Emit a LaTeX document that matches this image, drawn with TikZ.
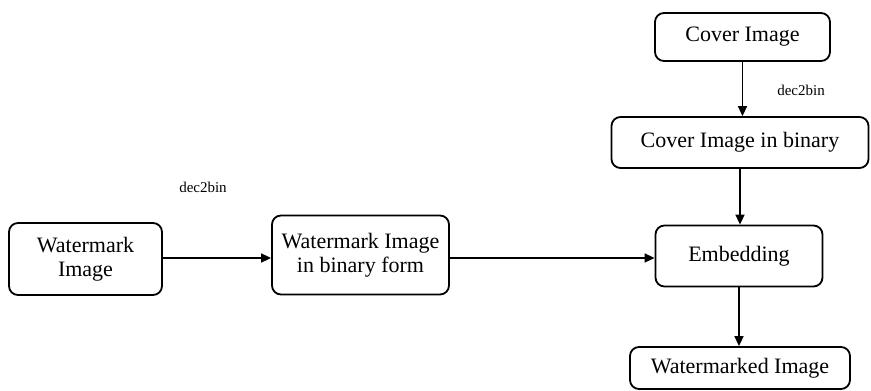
\documentclass[tikz,border=0pt]{standalone}
\usepackage{fontspec}
\setmainfont{Liberation Serif}
\usetikzlibrary{arrows.meta}
\begin{document}
\begin{tikzpicture}[x=1pt,y=-1pt,
  box/.style={draw=black,line width=1.8pt,rounded corners=9pt,inner sep=0pt,align=center,font=\fontsize{22}{24}\selectfont},
  arr/.style={line width=1.6pt,-{Triangle[length=10pt,width=9pt]}},
  lbl/.style={font=\fontsize{15}{17}\selectfont,inner sep=0pt}]
\useasboundingbox (0,0) rectangle (871,391);
\node[box,minimum width=153pt,minimum height=72pt] (wm) at (85.5,259) {Watermark\\Image};
\node[box,minimum width=177pt,minimum height=79pt] (wmb) at (360.5,255) {Watermark Image\\in binary form};
\node[box,minimum width=175pt,minimum height=48pt] (cover) at (742.5,37) {Cover Image};
\node[box,minimum width=257pt,minimum height=51pt] (coverb) at (740,142.5) {Cover Image in binary};
\node[box,minimum width=167pt,minimum height=61pt] (emb) at (739,256) {Embedding};
\node[box,minimum width=220pt,minimum height=42pt] (wmd) at (740,368) {Watermarked Image};
\node[lbl] (l1) at (203,187) {dec2bin};
\node[lbl] (l2) at (801,90) {dec2bin};
\coordinate (ay) at (0,258);
\draw[arr] (wm.east |- ay) -- (wmb.west |- ay);
\draw[arr] (wmb.east |- ay) -- (emb.west |- ay);
\draw[arr] (cover.south) -- (cover.south |- coverb.north);
\draw[arr] (coverb.south) -- (coverb.south |- emb.north);
\draw[arr] (emb.south) -- (emb.south |- wmd.north);
\end{tikzpicture}
\end{document}
